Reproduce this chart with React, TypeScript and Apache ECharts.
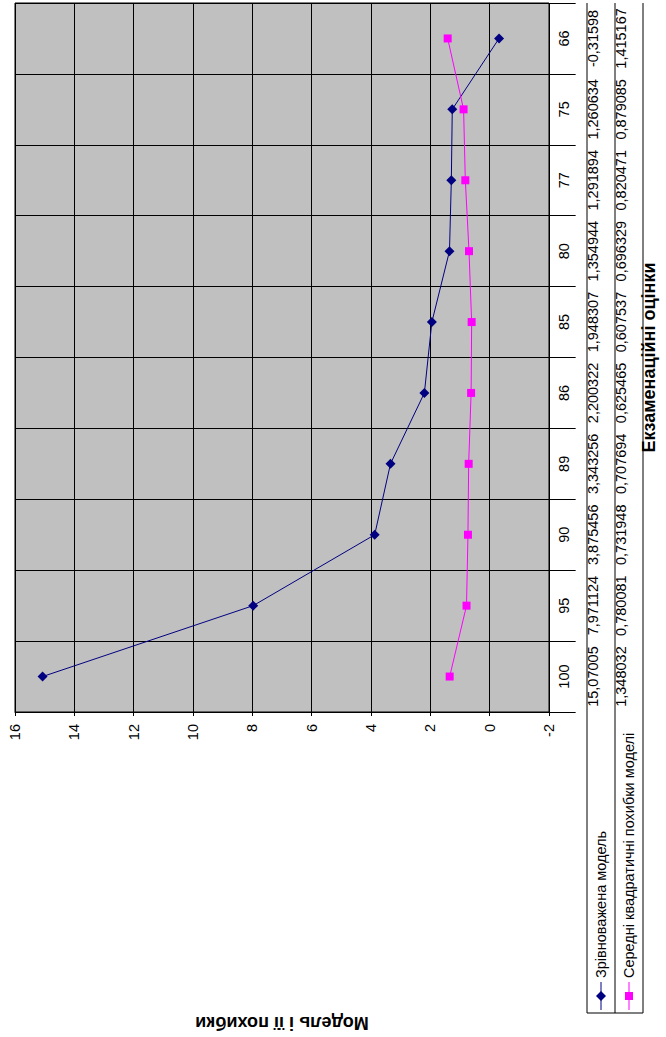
import { useEffect, useRef } from "react";
import * as echarts from "echarts";

// ---- data (Excel order: first category is drawn at the bottom) ----
const categories = ["100", "95", "90", "89", "86", "85", "80", "77", "75", "66"];
const balancedModel = [15.07005, 7.971124, 3.875456, 3.343256, 2.200322, 1.948307, 1.354944, 1.291894, 1.260634, -0.31598];
const rmsErrors = [1.348032, 0.780081, 0.731948, 0.707694, 0.625465, 0.607537, 0.696329, 0.820471, 0.879085, 1.415167];
const seriesNames = ["Зрівноважена модель", "Середні квадратичні похибки моделі"];
const valueMin = -2;
const valueMax = 16;
const valueStep = 2;
const valueAxisTitle = "Модель і її похибки";
const categoryAxisTitle = "Екзаменаційні оцінки";

const fmt = (v: number) => String(v).replace(".", ",");

const FONT = "'Liberation Sans', Arial, sans-serif";
const FS = 14.5;
const TITLE_FS = 18;
const W = 666;
const H = 1037;
const G_LEFT = 15;
const G_RIGHT = 557;
const G_TOP = 3;
const G_BOTTOM = 721;
const COL1 = 587;
const COL2 = 615;
const COL3 = 643;
const LEG_BOTTOM = 1013;
const NAVY = "#000080";
const MAGENTA = "#FF00FF";

export default function App() {
  const ref = useRef<HTMLDivElement>(null);

  useEffect(() => {
    if (!ref.current) return;
    const chart = echarts.init(ref.current, undefined, { renderer: "svg" });

    const tableAxis = (margin: number, formatter: (v: string, i: number) => string) => ({
      type: "category" as const,
      position: "right" as const,
      data: categories,
      gridIndex: 0,
      axisLine: { show: false },
      axisTick: { show: false },
      splitLine: { show: false },
      axisLabel: {
        show: true,
        interval: 0,
        rotate: 90,
        margin,
        align: "center",
        verticalAlign: "middle",
        color: "#000",
        fontSize: FS,
        fontFamily: FONT,
        formatter,
      },
    });

    const line = (x1: number, y1: number, x2: number, y2: number, color = "#000") => ({
      type: "line",
      shape: { x1, y1, x2, y2 },
      style: { stroke: color, lineWidth: 1 },
      silent: true,
    });

    const legendText = (x: number, text: string) => ({
      type: "text",
      x,
      y: 978,
      rotation: Math.PI / 2,
      style: {
        text,
        fill: "#000",
        fontSize: FS,
        fontFamily: FONT,
        align: "left",
        verticalAlign: "middle",
      },
      silent: true,
    });

    const c1 = (COL1 + COL2) / 2;
    const c2 = (COL2 + COL3) / 2;

    chart.setOption({
      animation: false,
      backgroundColor: "#fff",
      grid: {
        left: G_LEFT,
        top: G_TOP,
        width: G_RIGHT - G_LEFT,
        height: G_BOTTOM - G_TOP,
        show: true,
        backgroundColor: "#C0C0C0",
        borderColor: "#000",
        borderWidth: 1,
        containLabel: false,
      },
      xAxis: {
        type: "value",
        inverse: true,
        min: valueMin,
        max: valueMax,
        interval: valueStep,
        position: "bottom",
        axisLine: { show: true, lineStyle: { color: "#000", width: 1 } },
        axisTick: { show: true, length: 4, lineStyle: { color: "#000" } },
        splitLine: { show: true, lineStyle: { color: "#000", width: 1 } },
        axisLabel: {
          rotate: 90,
          margin: 12,
          color: "#000",
          fontSize: FS,
          fontFamily: FONT,
        },
        name: valueAxisTitle,
        nameLocation: "middle",
        nameGap: 311,
        nameRotate: 180,
        nameTextStyle: {
          fontWeight: "bold",
          fontSize: TITLE_FS,
          fontFamily: FONT,
          color: "#000",
          align: "center",
          verticalAlign: "middle",
        },
      },
      yAxis: [
        {
          type: "category",
          position: "right",
          data: categories,
          axisLine: { show: true, lineStyle: { color: "#000" } },
          axisTick: { show: true, interval: 0, length: COL3 - G_RIGHT, lineStyle: { color: "#000" } },
          splitLine: { show: true, interval: 0, lineStyle: { color: "#000", width: 1 } },
          axisLabel: {
            show: true,
            interval: 0,
            rotate: 90,
            margin: 15,
            align: "center",
            verticalAlign: "middle",
            color: "#000",
            fontSize: FS,
            fontFamily: FONT,
          },
          name: categoryAxisTitle,
          nameLocation: "middle",
          nameGap: 100,
          nameRotate: 90,
          nameTextStyle: {
            fontWeight: "bold",
            fontSize: TITLE_FS,
            fontFamily: FONT,
            color: "#000",
            align: "center",
            verticalAlign: "middle",
          },
        },
        tableAxis(c1 - G_RIGHT, (_v, i) => fmt(balancedModel[i])),
        tableAxis(c2 - G_RIGHT, (_v, i) => fmt(rmsErrors[i])),
      ],
      series: [
        {
          name: seriesNames[0],
          type: "line",
          xAxisIndex: 0,
          yAxisIndex: 0,
          data: balancedModel.map((v, i) => [v, categories[i]]),
          symbol: "diamond",
          symbolSize: 10,
          lineStyle: { color: NAVY, width: 1 },
          itemStyle: { color: NAVY },
        },
        {
          name: seriesNames[1],
          type: "line",
          xAxisIndex: 0,
          yAxisIndex: 0,
          data: rmsErrors.map((v, i) => [v, categories[i]]),
          symbol: "rect",
          symbolSize: 8,
          lineStyle: { color: MAGENTA, width: 1 },
          itemStyle: { color: MAGENTA },
        },
      ],
      graphic: [
        line(COL1, G_TOP, COL1, LEG_BOTTOM),
        line(COL2, G_TOP, COL2, LEG_BOTTOM),
        line(COL3, G_TOP, COL3, LEG_BOTTOM),
        line(COL1, LEG_BOTTOM, COL3, LEG_BOTTOM),
        line(c1, 982, c1, 1010, NAVY),
        {
          type: "polygon",
          shape: { points: [[c1, 991], [c1 + 5, 996], [c1, 1001], [c1 - 5, 996]] },
          style: { fill: NAVY },
          silent: true,
        },
        legendText(c1, seriesNames[0]),
        line(c2, 982, c2, 1010, MAGENTA),
        {
          type: "rect",
          shape: { x: c2 - 4, y: 992, width: 8, height: 8 },
          style: { fill: MAGENTA },
          silent: true,
        },
        legendText(c2, seriesNames[1]),
      ],
    });

    return () => chart.dispose();
  }, []);

  return (
    <div
      ref={ref}
      style={{ position: "absolute", left: 0, top: 0, width: W, height: H, background: "#fff" }}
    />
  );
}
